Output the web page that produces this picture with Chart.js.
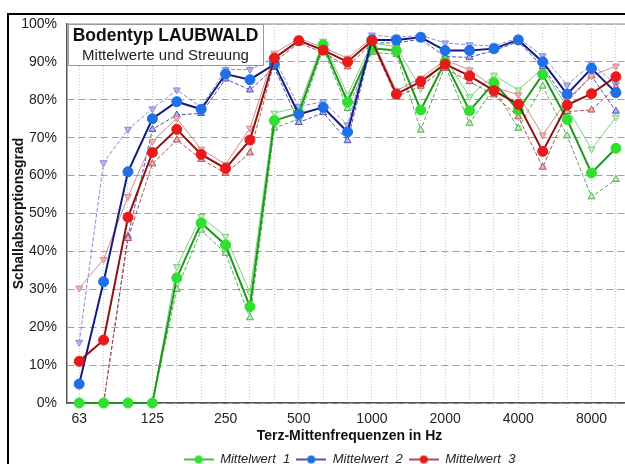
<!DOCTYPE html>
<html>
<head>
<meta charset="utf-8">
<title>Bodentyp LAUBWALD</title>
<script src="https://cdn.jsdelivr.net/npm/chart.js@4.4.0/dist/chart.umd.min.js"></script>
<style>
  html, body { margin: 0; padding: 0; overflow: hidden; background: #fff; }
  #wrap { width: 640px; height: 480px; }
</style>
</head>
<body>
<div id="wrap"><canvas id="chart" width="640" height="480"></canvas></div>
<script>
// Terzbänder (Hz) und beschriftete Oktaven
const bands = ['63', '80', '100', '125', '160', '200', '250', '315', '400', '500', '630', '800',
               '1000', '1250', '1600', '2000', '2500', '3150', '4000', '5000', '6300', '8000', '10000'];
const tickBands = ['63', '125', '250', '500', '1000', '2000', '4000', '8000'];

// Messreihe 1 (grün)
const mittel1 = [0, 0, 0, 0, 33, 47.5, 41.7, 25.4, 74.5, 76.5, 94.5, 79.4, 93.6, 93, 77.3, 90, 77.1, 84.5, 77.3, 86.7, 74.8, 60.7, 67.2];
const oben1   = [0, 0, 0, 0, 36, 49.2, 44, 29.1, 76.5, 78, 95.5, 81.3, 95, 94, 83, 91, 80.8, 86.5, 82.6, 88.3, 78, 67, 75.4];
const unten1  = [0, 0, 0, 0, 30, 45.6, 39.5, 22.5, 72.5, 75, 93.5, 77.7, 92.5, 92, 72, 89, 73.8, 83, 72.5, 83.6, 70.5, 54.4, 59];

// Messreihe 2 (blau)
const mittel2 = [5, 32, 61, 75, 79.5, 77.5, 86.8, 85.3, 89.4, 76.2, 78, 71.5, 95.8, 95.8, 96.5, 93, 93, 93.5, 95.8, 90, 81.5, 88.3, 81.9];
const oben2   = [16, 63.4, 72.2, 77.6, 82.6, 78, 88, 88, 91, 78.2, 79.5, 73.4, 97.1, 96.5, 97, 95, 94.5, 94.2, 96.3, 91.6, 83.9, 89.5, 84];
const unten2  = [0, 0, 44, 72.2, 76, 76.4, 85.5, 82.6, 88.5, 74, 76.6, 69.2, 95, 95, 96, 91.4, 91.2, 93, 95.3, 88.7, 79.5, 86.3, 77];

// Messreihe 3 (rot)
const mittel3 = [11, 16.6, 49, 66.1, 72.2, 65.6, 61.9, 69.4, 91, 95.6, 93.1, 90, 95.6, 81.5, 84.8, 89.4, 86.3, 82.4, 78.8, 66.4, 78.6, 81.6, 86.1];
const oben3   = [30.3, 37.9, 54.5, 69, 75.1, 67, 63, 72.5, 92.3, 96.2, 93.8, 91, 96.3, 82.4, 85.7, 90.5, 87.9, 83.3, 81.3, 70.7, 80, 86.3, 88.9];
const unten3  = [0, 0, 43.4, 63.1, 69.4, 64.3, 60.6, 66, 90, 95, 92.5, 88.7, 95, 80.8, 83.6, 88.3, 84.8, 81.3, 75.5, 62.2, 76.9, 77.3, 83.3];

const FONT = 'Arial, "Liberation Sans", sans-serif';

function pts(values) {
  return values.map((y, i) => ({ x: i, y }));
}

function mean(label, values, line, fill, order) {
  return {
    label, data: pts(values), order, clip: false,
    borderColor: line, borderWidth: 2,
    pointStyle: 'circle', pointRadius: 5,
    pointBackgroundColor: fill, pointBorderColor: fill, pointBorderWidth: 1
  };
}

function band(label, values, line, fill, up, dash, order) {
  return {
    label, data: pts(values), order, clip: false,
    borderColor: line, borderWidth: 1, borderDash: dash,
    pointStyle: 'triangle', pointRotation: up ? 0 : 180, pointRadius: 4,
    pointBackgroundColor: fill, pointBorderColor: line, pointBorderWidth: 1
  };
}

// Linie mit Punkt für die Legende
function legendSymbol(line, fill) {
  const c = document.createElement('canvas');
  c.width = 30; c.height = 10;
  const g = c.getContext('2d');
  g.strokeStyle = line; g.lineWidth = 1.5;
  g.beginPath(); g.moveTo(0, 5); g.lineTo(30, 5); g.stroke();
  g.fillStyle = fill;
  g.beginPath(); g.arc(15, 5, 4, 0, Math.PI * 2); g.fill();
  return c;
}

const datasets = [
  mean('Mittelwert_1', mittel1, '#1c9a1c', '#2fe02f', 2),
  mean('Mittelwert_2', mittel2, '#121c80', '#1f6fe6', 1),
  mean('Mittelwert_3', mittel3, '#8e1212', '#e81a1a', 0),
  band('Max 1', oben1, '#80d080', '#bdf0bd', false, [], 5),
  band('Min 1', unten1, '#4fae4f', '#bdf0bd', true, [4, 2], 5),
  band('Max 2', oben2, '#8a8ad8', '#b0b0f2', false, [4, 2], 4),
  band('Min 2', unten2, '#5050b8', '#b0b0f2', true, [4, 2], 4),
  band('Max 3', oben3, '#d88a8a', '#f4b0b0', false, [], 3),
  band('Min 3', unten3, '#b05050', '#f4b0b0', true, [4, 2], 3)
];

const framePlugin = {
  id: 'frame',
  beforeDraw(chart) {
    const { ctx, width, height } = chart;
    ctx.save();
    ctx.fillStyle = '#fff';
    ctx.fillRect(0, 0, width, height);
    ctx.strokeStyle = '#000';
    ctx.lineWidth = 2;
    ctx.strokeRect(8, 14, width - 14, height - 20);
    ctx.restore();
  },
  beforeDatasetsDraw(chart) {
    const { ctx, chartArea: a } = chart;
    ctx.save();
    ctx.strokeStyle = '#b4b4b4';
    ctx.lineWidth = 1.5;
    ctx.beginPath();
    ctx.moveTo(a.left, a.top);
    ctx.lineTo(a.right, a.top);
    ctx.stroke();
    ctx.restore();
  },
  afterDraw(chart) {
    const { ctx, chartArea: a } = chart;
    const x = a.left + 1, y = a.top + 0.5, w = 195, h = 41;
    ctx.save();
    ctx.fillStyle = '#fff';
    ctx.fillRect(x, y, w, h);
    ctx.strokeStyle = '#999';
    ctx.lineWidth = 1;
    ctx.strokeRect(x + 0.5, y, w, h);
    ctx.fillStyle = '#111';
    ctx.textAlign = 'center';
    ctx.textBaseline = 'middle';
    ctx.font = 'bold 17.5px ' + FONT;
    ctx.fillText('Bodentyp LAUBWALD', x + w / 2, y + 12);
    ctx.font = '15px ' + FONT;
    ctx.fillStyle = '#222';
    ctx.fillText('Mittelwerte und Streuung', x + w / 2, y + 31);
    ctx.restore();
  }
};

new Chart(document.getElementById('chart'), {
  type: 'line',
  data: { datasets },
  plugins: [framePlugin],
  options: {
    responsive: false,
    animation: false,
    layout: { padding: { left: 0, top: 24, right: 8, bottom: 4 } },
    plugins: {
      tooltip: { enabled: false },
      legend: {
        position: 'bottom',
        fullSize: false,
        labels: {
          usePointStyle: true,
          pointStyleWidth: 30,
          padding: 6,
          color: '#222',
          font: { size: 13, style: 'italic', family: FONT },
          generateLabels: chart => [0, 1, 2].map(i => {
            const ds = chart.data.datasets[i];
            return {
              text: ds.label,
              datasetIndex: i,
              pointStyle: legendSymbol(ds.borderColor, ds.pointBackgroundColor),
              fontColor: '#222',
              fillStyle: ds.pointBackgroundColor,
              strokeStyle: ds.borderColor,
              lineWidth: 0,
              hidden: false
            };
          })
        }
      }
    },
    scales: {
      x: {
        type: 'linear',
        min: -0.5,
        max: 22.66,
        afterBuildTicks: s => { s.ticks = bands.map((b, i) => ({ value: i })); },
        afterFit: s => { s.height = 44; },
        ticks: {
          autoSkip: false, maxRotation: 0, padding: 3,
          color: '#222', font: { size: 14, family: FONT },
          callback: v => tickBands.includes(bands[v]) ? bands[v] : ''
        },
        grid: { color: '#c6c6c6', lineWidth: 1, tickLength: 5, tickColor: '#c6c6c6', tickBorderDash: [1, 2] },
        border: { display: true, color: '#555', width: 1.5, dash: [1, 2] },
        title: {
          display: true, text: 'Terz-Mittenfrequenzen in Hz', color: '#111',
          font: { size: 14, weight: 'bold', family: FONT }, padding: { top: 0, bottom: 2 }
        }
      },
      y: {
        min: 0,
        max: 100,
        afterFit: s => { s.width = 67; },
        ticks: {
          stepSize: 10, padding: 10, color: '#222', font: { size: 14, family: FONT },
          callback: v => v + '%'
        },
        grid: { color: '#a0a0a0', drawTicks: false },
        border: { display: true, color: '#555', width: 1.5, dash: [7, 4] },
        title: {
          display: true, text: 'Schallabsorptionsgrad', color: '#111',
          font: { size: 14, weight: 'bold', family: FONT }, padding: { top: 11, bottom: 0 }
        }
      }
    }
  }
});
</script>
</body>
</html>
